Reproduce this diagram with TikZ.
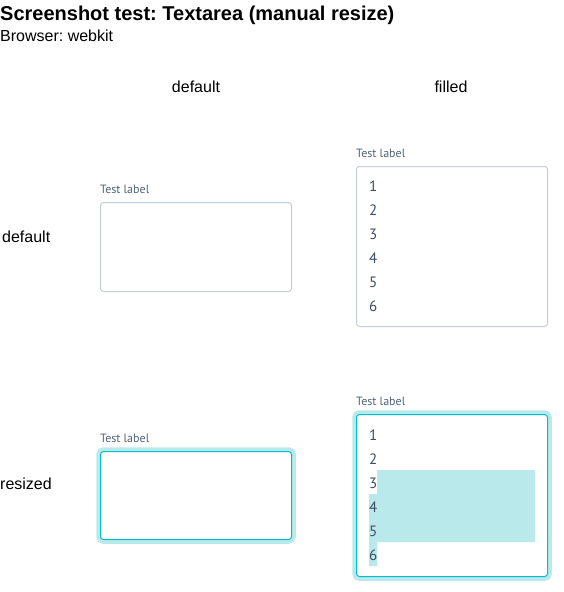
\documentclass[tikz,border=0pt]{standalone}
\usepackage{fontspec}
\setmainfont{Liberation Sans}
\newfontfamily\uifont{PT Sans}
\usetikzlibrary{positioning}
\frenchspacing
\definecolor{lblcol}{HTML}{50647A}
\definecolor{numcol}{HTML}{3C4D60}
\definecolor{bordcol}{HTML}{C3CDD6}
\definecolor{focuscol}{HTML}{00BFCB}
\definecolor{halocol}{HTML}{B9E9EB}
\tikzset{
  hdr/.style = {inner sep=0pt, font=\fontsize{16}{19}\selectfont},
  tlabel/.style = {inner sep=0pt, text=lblcol,
    font=\uifont\fontsize{12}{14}\selectfont},% label above a box
  txa_n/.style = {draw=bordcol, fill=white, line width=1pt, rounded corners=3pt,
    inner sep=0pt, anchor=north west, minimum width=191pt},% textarea, normal
  txa_f/.style = {txa_n, draw=focuscol,
    preaction={draw=halocol, line width=8.5pt}},% textarea, focused
  linenum/.style = {anchor=west, inner sep=0pt, text=numcol,
    font=\uifont\fontsize{15}{18}\selectfont},
}

\begin{document}
\begin{tikzpicture}[x=1pt,y=-1pt]
\useasboundingbox (0,0) rectangle (564,592);
\node [anchor=base west, inner sep=0pt, font=\bfseries\fontsize{20}{24}\selectfont] (title) at (0,20) {Screenshot test: Textarea (manual resize)};
\node [hdr, anchor=base west] (browser) at (0,41) {Browser: webkit};
\node [hdr, anchor=base] (col_d) at (196,92) {default};
\node [hdr, anchor=base] (col_f) at (451,92) {filled};
\node [hdr, anchor=base west] (row_d) at (2,242) {default};
\node [hdr, anchor=base west] (row_r) at (0,489) {resized};
% boxes
\node [txa_n, minimum height=89pt] (b1) at (100,202) {};
\node [txa_n, minimum height=160pt] (b2) at (356,166) {};
\node [txa_f, minimum height=88pt] (b3) at (100,451) {};
\node [txa_f, minimum height=162pt] (b4) at (356,414) {};
\foreach \b in {b1,b2,b3,b4}
  \node [tlabel, above right=8pt and 0pt of \b.north west] (\b_lbl) {Test label};
% selection
\fill [halocol] (377,470) -- (535,470) -- (535,542) -- (377,542) -- (377,566)
  -- (369,566) -- (369,494) -- (377,494) -- cycle;
\foreach \i in {1,...,6} {
  \node [linenum] (b2_\i) at (369,162+24*\i) {\i};
  \node [linenum] (b4_\i) at (369,411+24*\i) {\i};
}
\end{tikzpicture}
\end{document}
